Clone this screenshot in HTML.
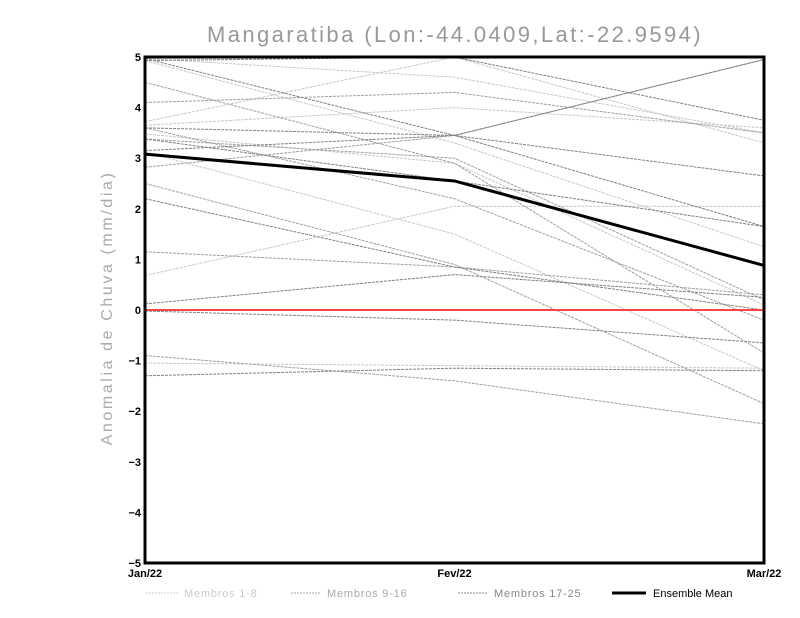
<!DOCTYPE html>
<html><head><meta charset="utf-8"><style>
body{margin:0;background:#fff;}
svg{display:block;font-family:"Liberation Sans",sans-serif;}
</style></head><body>
<svg id="chart" width="800" height="618">
<text x="455" y="42" text-anchor="middle" font-size="22" fill="#999" letter-spacing="2.4">Mangaratiba (Lon:-44.0409,Lat:-22.9594)</text>
<text transform="translate(112,308) rotate(-90)" text-anchor="middle" font-size="16" fill="#aaa" letter-spacing="2.6">Anomalia de Chuva (mm/dia)</text>
<g id="lines"></g>
<g id="axes"></g>
<g id="legend" font-size="11">
<g><line x1="146" y1="593" x2="178" y2="593" stroke="#ccc" stroke-dasharray="2,1"/><text x="184" y="597" fill="#ccc" letter-spacing="0.8">Membros 1-8</text></g>
<g><line x1="291" y1="593" x2="321" y2="593" stroke="#aaa" stroke-dasharray="2,1"/><text x="327" y="597" fill="#aaa" letter-spacing="0.8">Membros 9-16</text></g>
<g><line x1="458" y1="593" x2="488" y2="593" stroke="#888" stroke-dasharray="2,1"/><text x="494" y="597" fill="#888" letter-spacing="0.8">Membros 17-25</text></g>
<g><line x1="612" y1="593" x2="646" y2="593" stroke="#000" stroke-width="3"/><text x="653" y="597" fill="#000">Ensemble Mean</text></g>
</g>
</svg>
<script>
const categories=["Jan/22","Fev/22","Mar/22"];
const yTicks=[-5,-4,-3,-2,-1,0,1,2,3,4,5];
const members1=[[4.93,3.3,1.25],[3.48,2.9,0.1],[3.72,5.0,3.3],[3.12,1.5,-1.2],[-1.05,-1.1,-1.15],[4.97,4.6,3.5],[0.68,2.05,2.05],[3.65,4.0,3.6]];
const members2=[[4.5,2.9,-0.85],[2.5,0.9,-1.85],[4.1,4.3,3.5],[3.38,3.0,0.2],[-0.9,-1.4,-2.25],[2.82,3.45,4.95],[1.15,0.85,0.3],[3.6,2.2,-0.2]];
const members3=[[4.97,3.45,2.65],[3.15,3.45,4.95],[2.2,0.85,0.0],[0.12,0.7,0.25],[-0.02,-0.2,-0.65],[-1.3,-1.15,-1.2],[3.6,3.45,1.65],[3.38,2.55,1.65],[4.93,5.0,3.75]];
const ensembleMean=[3.08,2.55,0.88];
const X0=145,X1=764,Y0=57,Y1=563;
const xs=i=>X0+(X1-X0)*i/(categories.length-1);
const ys=v=>Y1-(v+5)/10*(Y1-Y0);
const NS="http://www.w3.org/2000/svg";
const L=document.getElementById('lines'),A=document.getElementById('axes');
function poly(vals,stroke,w,dash,name){const p=document.createElementNS(NS,'polyline');
p.setAttribute('points',vals.map((v,i)=>xs(i)+','+ys(v)).join(' '));
p.setAttribute('fill','none');p.setAttribute('stroke',stroke);p.setAttribute('stroke-width',w);
if(dash)p.setAttribute('stroke-dasharray',dash);


L.appendChild(p);}
members1.forEach((m,i)=>poly(m,'#c8c8c8',1,'3,1','member-line-'+(i+1)));
members2.forEach((m,i)=>poly(m,'#a0a0a0',1,'3,1','member-line-'+(i+9)));
members3.forEach((m,i)=>poly(m,'#808080',1,'3,1','member-line-'+(i+17)));
const z=document.createElementNS(NS,'line');
z.setAttribute('x1',X0);z.setAttribute('x2',X1);z.setAttribute('y1',ys(0));z.setAttribute('y2',ys(0));
z.setAttribute('stroke','#f44');z.setAttribute('stroke-width','2');


L.appendChild(z);
poly(ensembleMean,'#000',3,null,'ensemble-mean-line');
const r=document.createElementNS(NS,'rect');
r.setAttribute('x',X0);r.setAttribute('y',Y0);r.setAttribute('width',X1-X0);r.setAttribute('height',Y1-Y0);
r.setAttribute('fill','none');r.setAttribute('stroke','#000');r.setAttribute('stroke-width','3');


A.appendChild(r);
yTicks.forEach(v=>{const t=document.createElementNS(NS,'text');
t.setAttribute('x',X0-4);t.setAttribute('y',ys(v)+4);t.setAttribute('text-anchor','end');
t.setAttribute('font-size','11');t.setAttribute('font-weight','bold');
t.textContent=(v<0?'\u2212':'')+Math.abs(v);


A.appendChild(t);});
categories.forEach((c,i)=>{const t=document.createElementNS(NS,'text');
t.setAttribute('x',xs(i));t.setAttribute('y',Y1+14);t.setAttribute('text-anchor','middle');
t.setAttribute('font-size','11');t.setAttribute('font-weight','bold');
t.textContent=c;


A.appendChild(t);});
</script>
</body></html>
